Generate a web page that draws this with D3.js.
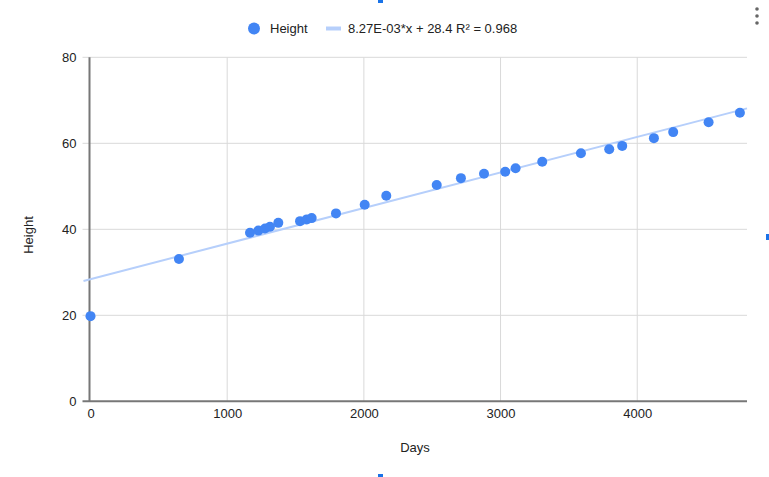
<!DOCTYPE html>
<html><head><meta charset="utf-8">
<script src="https://cdn.jsdelivr.net/npm/d3@7"></script>
<style>body{margin:0;background:#fff}svg{display:block;font-family:Arial,"Liberation Sans",sans-serif}</style>
</head><body><svg id="c" width="769" height="477"></svg>
<script>
const days = [0,647,1167,1228,1277,1313,1374,1533,1582,1618,1796,2006,2164,2533,2710,2879,3034,3110,3305,3588,3795,3890,4122,4263,4522,4751];
const heights = [19.8,33.1,39.2,39.7,40.2,40.6,41.5,41.9,42.3,42.6,43.7,45.7,47.8,50.3,51.9,52.9,53.4,54.2,55.7,57.7,58.6,59.4,61.2,62.6,64.9,67.1];
const xTicks = [0,1000,2000,3000,4000];
const yTicks = [0,20,40,60,80];
const trendSlope = 8.27e-3, trendIntercept = 28.4;
const trendLabel = "8.27E-03*x + 28.4 R\u00b2 = 0.968";
const seriesName = "Height";
const xTitle = "Days", yTitle = "Height";

const FF = 'Arial,"Liberation Sans",sans-serif';
const svg = d3.select("#c");
const L = 90.5, R = 747, T = 57.3, B = 401.3;
const x = d3.scaleLinear().domain([0, 4803]).range([L, R]);
const y = d3.scaleLinear().domain([0, 80]).range([B, T]);
const blue = "#4285f4", trendCol = "#b6cffb";

// gridlines
svg.append("g").selectAll("line").data(yTicks.filter(d=>d>0)).join("line")
  .attr("x1", L-8).attr("x2", R).attr("y1", d=>y(d)).attr("y2", d=>y(d))
  .attr("stroke", "#d9d9d9").attr("stroke-width", 1);
svg.append("g").selectAll("line").data(xTicks.filter(d=>d>0)).join("line")
  .attr("x1", d=>x(d)).attr("x2", d=>x(d)).attr("y1", T).attr("y2", B)
  .attr("stroke", "#d9d9d9").attr("stroke-width", 1);

// axes via d3 axis for labels
const yAxis = svg.append("g").attr("transform", `translate(${L-14},0)`)
  .call(d3.axisLeft(y).tickValues(yTicks).tickSize(0).tickPadding(0));
yAxis.select(".domain").remove();
yAxis.selectAll("text").attr("font-size", 13).attr("fill", "#222").attr("font-family",FF);
const xAxis = svg.append("g").attr("transform", `translate(0,${B+6})`)
  .call(d3.axisBottom(x).tickValues(xTicks).tickSize(0).tickPadding(0).tickFormat(d3.format("d")));
xAxis.select(".domain").remove();
xAxis.selectAll("text").attr("font-size", 13).attr("fill", "#222").attr("font-family",FF).attr("dy","0.85em");

// baseline axes
svg.append("line").attr("x1", L-8).attr("x2", R).attr("y1", y(0)).attr("y2", y(0)).attr("stroke", "#777").attr("stroke-width", 2);
svg.append("line").attr("x1", x(0)-1).attr("x2", x(0)-1).attr("y1", T).attr("y2", B).attr("stroke", "#777").attr("stroke-width", 2);

// trendline
const tx = [x.invert(L-7), x.domain()[1]];
svg.append("line")
  .attr("x1", x(tx[0])).attr("y1", y(trendSlope*tx[0]+trendIntercept))
  .attr("x2", x(tx[1])).attr("y2", y(trendSlope*tx[1]+trendIntercept))
  .attr("stroke", trendCol).attr("stroke-width", 2);

// points
svg.append("g").selectAll("circle").data(days.map((d,i)=>[d,heights[i]])).join("circle")
  .attr("cx", d=>x(d[0])).attr("cy", d=>y(d[1])).attr("r", 5).attr("fill", blue);

// axis titles
svg.append("text").attr("x", 415).attr("y", 452).attr("text-anchor","middle").attr("font-size",13).attr("fill","#222").text(xTitle);
svg.append("text").attr("transform","translate(33,235) rotate(-90)").attr("text-anchor","middle").attr("font-size",13).attr("fill","#222").text(yTitle);

// legend
const lg = svg.append("g");
lg.append("circle").attr("cx", 254).attr("cy", 28.5).attr("r", 6).attr("fill", blue);
lg.append("text").attr("x", 270).attr("y", 33).attr("font-size", 13).attr("fill","#222").text(seriesName);
lg.append("line").attr("x1", 326).attr("x2", 341).attr("y1", 28.5).attr("y2", 28.5).attr("stroke", trendCol).attr("stroke-width", 4);
lg.append("text").attr("x", 348).attr("y", 33).attr("font-size", 13).attr("fill","#222").text(trendLabel);

// menu dots and selection handles
svg.append("g").selectAll("circle").data([0,1,2]).join("circle")
  .attr("cx", 757).attr("cy", d=>9+d*7).attr("r", 1.8).attr("fill", "#666");
const handles = [[378,0,5,3],[766,234,3,6],[378,474,5,3]];
svg.append("g").selectAll("rect").data(handles).join("rect")
  .attr("x", d=>d[0]).attr("y", d=>d[1]).attr("width", d=>d[2]).attr("height", d=>d[3]).attr("fill", "#1a73e8");
</script></body></html>
